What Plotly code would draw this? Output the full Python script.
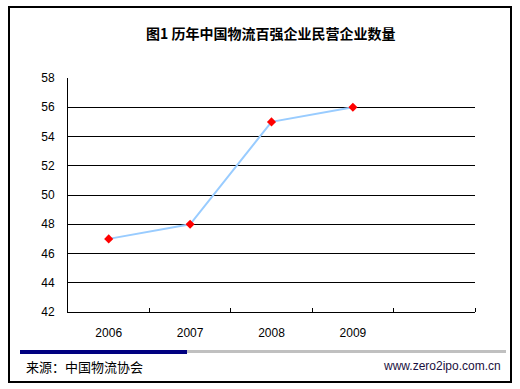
import plotly.graph_objects as go

years = ["2006", "2007", "2008", "2009"]
counts = [47, 48, 55, 56]
y_ticks = [42, 44, 46, 48, 50, 52, 54, 56, 58]

title_text = "图1 历年中国物流百强企业民营企业数量"
source_text = "来源：中国物流协会"
site_text = "www.zero2ipo.com.cn"

x_pos = list(range(len(years)))

fig = go.Figure()
fig.add_trace(go.Scatter(
    x=x_pos, y=counts, mode="lines+markers",
    line=dict(color="#99CCFF", width=2),
    marker=dict(symbol="diamond", color="#FF0000", size=7),
    showlegend=False, cliponaxis=False,
))

L, R, T, B = 68, 475, 78, 312
W, H = 520, 389
pw, ph = R - L, B - T

def px(x):
    return (x - L) / pw

def py(y):
    return (B - y) / ph

fig.update_layout(
    width=W, height=H,
    margin=dict(l=L, r=W - R, t=T, b=H - B, pad=0),
    paper_bgcolor="white", plot_bgcolor="white",
    font=dict(family="Arial, Liberation Sans, sans-serif", size=12, color="#000000"),
    xaxis=dict(
        range=[-0.5, 4.5], tickvals=x_pos, ticktext=years,
        showgrid=False, zeroline=False, showline=True, linecolor="#000000", linewidth=1,
        ticks="", ticklabelstandoff=10,
        minor=dict(tickvals=[0.5, 1.5, 2.5, 3.5, 4.5], ticks="inside", ticklen=4,
                   tickcolor="#000000", tickwidth=1, showgrid=False),
        fixedrange=True,
    ),
    yaxis=dict(
        range=[42, 58], tickvals=y_ticks,
        showgrid=True, gridcolor="#000000", gridwidth=1,
        zeroline=False, showline=True, linecolor="#000000", linewidth=1,
        ticks="", ticklabelstandoff=10,
        fixedrange=True,
    ),
    shapes=[
        dict(type="rect", xref="paper", yref="paper",
             x0=px(9), x1=px(511), y0=py(382), y1=py(7),
             line=dict(color="#000000", width=2), fillcolor="rgba(0,0,0,0)", layer="above"),
        dict(type="rect", xref="paper", yref="paper",
             x0=px(187), x1=px(506), y0=py(353), y1=py(350),
             line=dict(width=0), fillcolor="#C0C0C0"),
        dict(type="rect", xref="paper", yref="paper",
             x0=px(20), x1=px(187), y0=py(354), y1=py(350),
             line=dict(width=0), fillcolor="#000080"),
    ],
    annotations=[
        dict(text="<b>" + title_text + "</b>", xref="paper", yref="paper",
             x=px(270), y=py(33), xanchor="center", yanchor="middle", showarrow=False,
             font=dict(family="Noto Sans CJK SC", size=14, color="#000000")),
        dict(text=source_text, xref="paper", yref="paper",
             x=px(24), y=py(366), xanchor="left", yanchor="middle", showarrow=False,
             font=dict(family="Noto Sans CJK SC", size=13, color="#000000")),
        dict(text=site_text, xref="paper", yref="paper",
             x=px(503), y=py(366), xanchor="right", yanchor="middle", showarrow=False,
             font=dict(family="Arial, Liberation Sans, sans-serif", size=12, color="#1a1040")),
    ],
)

fig.write_html("out.html")
